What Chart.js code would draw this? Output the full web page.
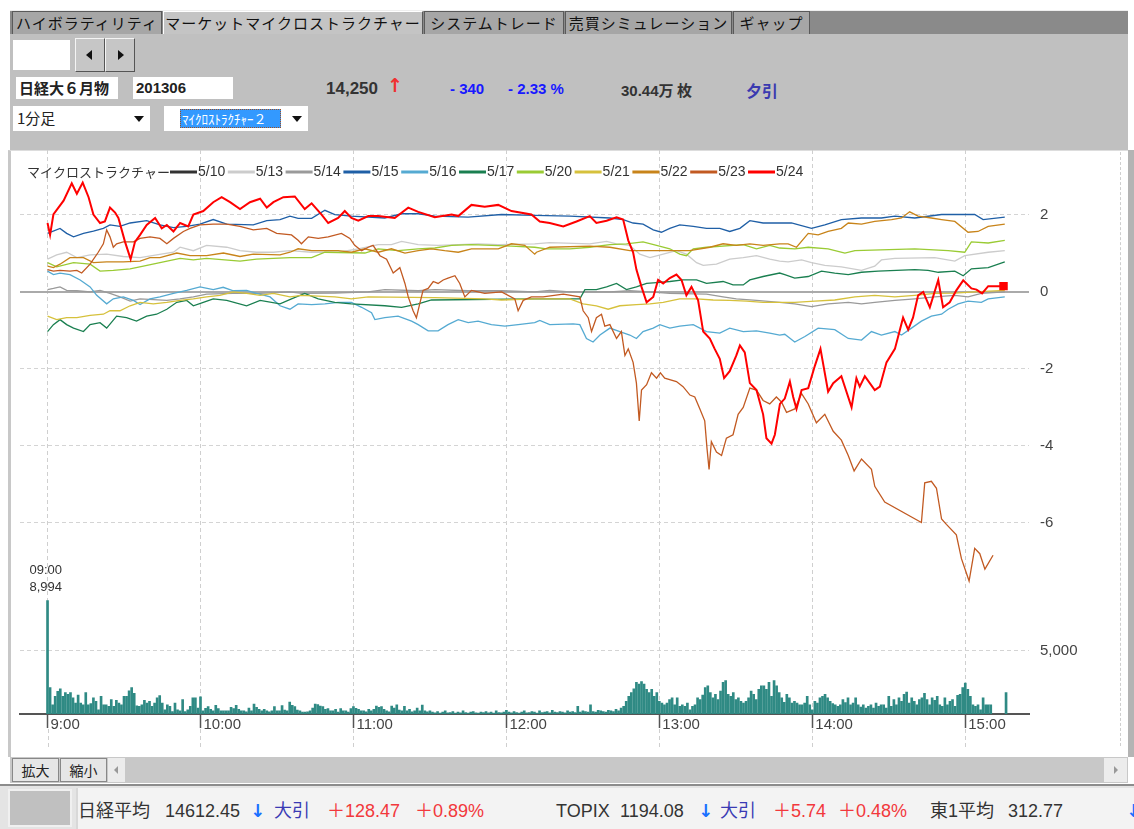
<!DOCTYPE html>
<html lang="ja">
<head>
<meta charset="UTF-8">
<title>マーケットマイクロストラクチャー</title>
<style>
  body { margin:0; width:1134px; height:829px; background:#fff; position:relative; overflow:hidden;
         font-family:"Noto Sans CJK JP", sans-serif; color:#222; }
  .a { position:absolute; box-sizing:border-box; white-space:nowrap; }
  .tab { top:11px; height:23px; background:#a6a6a6; border:1px solid #5a5a5a; border-bottom:none;
         font-size:15px; line-height:21px; text-align:center; letter-spacing:1px; color:#111; }
  .tab.on { background:#c4c4c4; border-color:#fff #5a5a5a #c4c4c4 #fff; }
  .btn { background:#c6c6c6; border:1px solid; border-color:#f4f4f4 #555 #555 #f4f4f4; }
  .tri-l { width:0; height:0; border-top:5px solid transparent; border-bottom:5px solid transparent; border-right:6px solid #111; }
  .tri-r { width:0; height:0; border-top:5px solid transparent; border-bottom:5px solid transparent; border-left:6px solid #111; }
  .tri-d { width:0; height:0; border-left:5px solid transparent; border-right:5px solid transparent; border-top:6px solid #111; }
  .num { font-family:"Liberation Sans", Arial, sans-serif; font-weight:bold; font-size:15px; }
  .st { top:798px; font-size:18px; font-family:"Liberation Sans", "Noto Sans CJK JP", sans-serif; color:#333; line-height:26px; }
  .red { color:#f2383c; }
  .blu { color:#3a3ab4; }
  .arr { color:#1a70ff; font-family:"DejaVu Sans", sans-serif; font-weight:bold; }
</style>
</head>
<body>
<!-- tab bar -->
<div class="a" style="left:10px;top:10px;width:1118px;height:24px;background:#8a8a8a;border-top:1px solid #eee;"></div>
<div class="a tab" style="left:12px;width:150px;">ハイボラティリティ</div>
<div class="a tab on" style="left:163px;width:260px;">マーケットマイクロストラクチャー</div>
<div class="a tab" style="left:424px;width:140px;">システムトレード</div>
<div class="a tab" style="left:565px;width:167px;">売買シミュレーション</div>
<div class="a tab" style="left:733px;width:77px;">ギャップ</div>

<!-- toolbar -->
<div class="a" style="left:10px;top:34px;width:1118px;height:116px;background:#c0c0c0;"></div>
<div class="a" style="left:13px;top:40px;width:57px;height:30px;background:#fff;"></div>
<div class="a btn" style="left:75px;top:38px;width:30px;height:34px;"></div>
<div class="a btn" style="left:105px;top:38px;width:30px;height:34px;"></div>
<div class="a tri-l" style="left:86px;top:50px;"></div>
<div class="a tri-r" style="left:118px;top:50px;"></div>

<div class="a" style="left:16px;top:77px;width:102px;height:22px;background:#fff;font-weight:bold;font-size:15px;line-height:22px;padding-left:3px;">日経大６月物</div>
<div class="a num" style="left:133px;top:77px;width:100px;height:22px;background:#fff;line-height:22px;padding-left:3px;">201306</div>
<div class="a num" style="left:326px;top:79px;font-size:17px;color:#333;">14,250</div>
<div class="a" style="left:387px;top:74px;font-size:19px;color:#f03030;font-weight:bold;font-family:'DejaVu Sans',sans-serif;">↑</div>
<div class="a num" style="left:450px;top:80px;color:#1818ff;">- 340</div>
<div class="a num" style="left:508px;top:80px;color:#1818ff;">- 2.33 %</div>
<div class="a" style="left:621px;top:79px;color:#333;font-weight:bold;font-size:15px;"><span class="num">30.44</span>万 枚</div>
<div class="a" style="left:746px;top:78px;color:#3a3ab0;font-weight:bold;font-size:16px;">夕引</div>

<div class="a" style="left:13px;top:106px;width:137px;height:25px;background:#fff;font-size:15px;line-height:24px;padding-left:4px;">1分足</div>
<div class="a tri-d" style="left:134px;top:116px;"></div>
<div class="a" style="left:164px;top:106px;width:144px;height:25px;background:#fff;"></div>
<div class="a" style="left:180px;top:109px;width:101px;height:19px;background:#3399ff;border:1px dotted #a05020;color:#fff;font-size:13px;line-height:17px;padding-left:1px;">ﾏｲｸﾛｽﾄﾗｸﾁｬｰ２</div>
<div class="a tri-d" style="left:292px;top:116px;"></div>

<!-- chart panel -->
<div class="a" style="left:8px;top:150px;width:1120px;height:607px;background:#fff;border-left:3px solid #c8c8c8;border-top:1px solid #ddd;"></div>
<div class="a" style="left:1128px;top:150px;width:6px;height:607px;background:#b4b4b4;"></div>
<div class="a" style="left:1120px;top:152px;width:1px;height:594px;border-left:1px dashed #cfcfcf;"></div>
<div class="a" style="left:12px;top:150px;width:1116px;height:605px;">
  <canvas id="chart" width="1116" height="605"></canvas>
</div>

<!-- zoom / scroll bar -->
<div class="a" style="left:10px;top:757px;width:1118px;height:26px;background:#c8c8c8;"></div>
<div class="a" style="left:12px;top:758px;width:47px;height:24px;background:#e6e6e6;border:1px solid #888;font-size:14px;line-height:22px;text-align:center;">拡大</div>
<div class="a" style="left:60px;top:758px;width:47px;height:24px;background:#e6e6e6;border:1px solid #888;font-size:14px;line-height:22px;text-align:center;">縮小</div>
<div class="a" style="left:108px;top:758px;width:17px;height:24px;background:#ececec;"></div>
<div class="a" style="left:114px;top:766px;width:0;height:0;border-top:4px solid transparent;border-bottom:4px solid transparent;border-right:4px solid #999;"></div>
<div class="a" style="left:1104px;top:758px;width:23px;height:24px;background:#ececec;"></div>
<div class="a" style="left:1114px;top:766px;width:0;height:0;border-top:4px solid transparent;border-bottom:4px solid transparent;border-left:4px solid #999;"></div>

<!-- status bar -->
<div class="a" style="left:0;top:784px;width:1134px;height:45px;background:#e4e4e4;border-top:2px solid #8c8c8c;"></div>
<div class="a" style="left:8px;top:789px;width:64px;height:38px;background:#c0c0c0;border:2px solid #f0f0f0;"></div>
<div class="a" style="left:76px;top:788px;width:1058px;height:41px;background:#f3f3f3;border-left:2px solid #d8d8d8;"></div>
<div class="a st" style="left:78px;">日経平均</div>
<div class="a st" style="left:165px;">14612.45</div>
<div class="a st arr" style="left:250px;">↓</div>
<div class="a st blu" style="left:274px;">大引</div>
<div class="a st red" style="left:327px;">＋128.47</div>
<div class="a st red" style="left:415px;">＋0.89%</div>
<div class="a st" style="left:556px;">TOPIX</div>
<div class="a st" style="left:620px;">1194.08</div>
<div class="a st arr" style="left:698px;">↓</div>
<div class="a st blu" style="left:720px;">大引</div>
<div class="a st red" style="left:773px;">＋5.74</div>
<div class="a st red" style="left:838px;">＋0.48%</div>
<div class="a st" style="left:930px;">東1平均</div>
<div class="a st" style="left:1008px;">312.77</div>
<div class="a st arr" style="left:1126px;">↓</div>

<script src="https://cdn.jsdelivr.net/npm/chart.js@4.4.0/dist/chart.umd.min.js"></script>
<script>
// minutes after 9:00 on the x axis
const xTickMinutes = [0, 60, 120, 180, 240, 300, 360];
const xTickLabels = ['9:00', '10:00', '11:00', '12:00', '13:00', '14:00', '15:00'];
const priceTicks = [2, 0, -2, -4, -6];
const volumeTicks = [5000];

const seriesNames = ['5/10', '5/13', '5/14', '5/15', '5/16', '5/17', '5/20', '5/21', '5/22', '5/23', '5/24'];
const seriesColors = ['#333333', '#cccccc', '#9a9a9a', '#1f5fa6', '#55aad2', '#1a7f50',
                      '#9acb34', '#d6c13c', '#c8841a', '#c25a22', '#ff0000'];

// [minute, value] pairs
const s0510 = [];
const s0513 = [[0,0.85],[3.6,0.96],[7.5,1.03],[11.5,0.89],[16.7,0.96],[23.2,0.98],[29.7,0.92],[36.3,0.89],[42.8,0.96],
  [49.4,1.03],[52,1.16],[57.2,1.07],[62.4,1.21],[70.3,1.16],[75.5,1.07],[82,1.03],[88.6,1.03],[95.1,1.07],[103.6,1.03],
  [114,1.03],[121.9,1.12],[129.7,1.23],[134.9,1.23],[138.9,1.31],[145.4,1.23],[153.2,1.21],[161.1,1.23],[168.9,1.25],
  [176.8,1.23],[191.1,1.25],[197,1.28],[212.7,1.25],[219.3,1.31],[223.2,1.25],[228.4,1.21],[232.3,0.98],[236.3,0.89],
  [241.5,0.98],[246.7,1.07],[250.6,0.98],[254.6,0.76],[257.2,0.69],[262.4,0.72],[267.6,0.85],[272.9,0.89],[278.1,0.94],
  [283.3,0.85],[287.2,0.8],[290.5,0.78],[295.8,0.83],[299.7,0.76],[304.9,0.69],[311.4,0.65],[319.3,0.56],[324.5,0.67],
  [327.1,0.83],[332.4,0.87],[348,0.89],[355.9,0.8],[359.8,0.94],[369,1.03],[375.5,1.07]];
const s0514 = [[0,0.06],[2.3,0.09],[4.9,0.13],[7.5,0.04],[11.5,0.03],[16.7,0],[20.6,0.04],[24.5,-0.04],[28.4,-0.13],
  [32.4,-0.24],[36.3,-0.18],[46.8,-0.22],[51.9,-0.18],[57.2,-0.13],[62.4,-0.06],[72.9,-0.04],[83.4,-0.04],[95.1,0],
  [99.6,-0.04],[112.7,-0.03],[125.8,0],[132.3,0.06],[145.4,0.03],[151.9,0.06],[165,0.03],[178.1,0.03],[191.1,0],
  [197,0.04],[204.9,0],[220.6,0],[228.4,0.03],[236.3,0],[244.1,-0.04],[258.5,-0.06],[265,-0.13],[270.2,-0.18],
  [278.1,-0.22],[287.2,-0.27],[293.1,-0.31],[299.7,-0.38],[306.2,-0.31],[314.1,-0.27],[319.3,-0.31],[324.5,-0.27],
  [332.4,-0.22],[340.2,-0.18],[348,-0.13],[355.9,-0.09],[361.1,-0.13],[366.3,-0.04],[375.5,0]];
const s0515 = [[0,1.52],[4.9,1.65],[7.5,1.52],[10.2,1.43],[14.1,1.52],[18,1.58],[21.9,1.65],[24.5,1.74],[28.4,1.7],
  [32.4,1.79],[38.9,1.85],[44.1,1.74],[49.4,1.67],[54.6,1.7],[59.8,1.76],[65,1.88],[70.3,1.76],[80.7,1.74],[86,1.85],
  [91.2,1.88],[95.1,1.97],[98.3,1.91],[103.6,1.91],[108.8,2.12],[112.7,2.01],[119.2,1.97],[132.3,1.92],[138.9,2.03],
  [145.4,2.03],[151.9,1.97],[165,1.94],[178.1,2.01],[191.1,1.99],[204.9,1.97],[220.6,1.92],[225.8,1.88],[229.7,1.79],
  [233.6,1.76],[237.6,1.61],[240.8,1.55],[244.1,1.65],[248,1.74],[253.3,1.7],[258.5,1.65],[263.7,1.65],[267.6,1.57],
  [271.6,1.65],[275.5,1.85],[280.7,1.79],[287.2,1.79],[291.8,1.79],[299.7,1.65],[304.9,1.74],[311.4,1.88],[319.3,1.92],
  [327.1,1.92],[332.4,1.97],[340.2,1.92],[350.7,2.01],[357.2,2.01],[363.7,2.01],[367,1.88],[375.5,1.94]];
const s0516 = [[0,0.54],[2.3,0.45],[4.9,0.49],[8.8,0.45],[12.8,0.31],[16.7,0.13],[19.3,-0.09],[23.2,-0.31],[25.8,-0.18],
  [29.7,-0.13],[33.7,-0.22],[36.3,-0.33],[40.2,-0.18],[44.1,-0.13],[49.4,-0.04],[54.6,0.04],[59.8,0.13],[65,0.06],
  [68.9,0.12],[72.9,0.03],[78.1,0.04],[82,-0.04],[87.3,-0.13],[91.2,-0.36],[95.1,-0.45],[98.3,-0.31],[103.6,-0.33],
  [108.8,-0.31],[114,-0.27],[119.2,-0.27],[123.2,-0.4],[127.1,-0.54],[128.4,-0.72],[132.3,-0.67],[137.5,-0.63],
  [142.8,-0.76],[145.4,-0.85],[149.3,-1.01],[153.2,-1.01],[157.1,-0.85],[161.1,-0.72],[165,-0.8],[168.9,-0.76],
  [174.1,-0.85],[179.4,-0.89],[184.6,-0.85],[191.1,-0.8],[193.1,-0.74],[197,-0.85],[206.2,-0.83],[208.8,-0.85],
  [211.4,-1.21],[214,-1.3],[216.7,-1.12],[220.6,-0.94],[224.5,-1.03],[228.4,-1.12],[231,-1.21],[233.6,-1.03],
  [237.6,-0.94],[240.2,-0.85],[244.1,-0.94],[248,-0.89],[253.3,-0.85],[258.5,-1.03],[263.7,-1.07],[267.6,-0.94],
  [272.9,-1.03],[278.1,-1.01],[283.3,-1.07],[287.2,-1.12],[289.2,-1.1],[293.1,-1.3],[297.1,-1.16],[302.3,-0.94],
  [308.8,-0.98],[314.1,-1.21],[319.3,-1.25],[323.2,-1.03],[327.1,-1.12],[332.4,-1.03],[335,-1.12],[338.9,-0.94],
  [342.8,-0.76],[346.7,-0.63],[350.7,-0.58],[353.3,-0.45],[357.2,-0.31],[361.1,-0.24],[366.3,-0.27],[369,-0.18],[375.5,-0.13]];
const s0517 = [[0,-1.03],[2.3,-0.85],[4.9,-0.72],[7.5,-0.85],[10.2,-0.94],[14.1,-1.03],[16.7,-0.85],[20.6,-0.8],
  [23.2,-0.94],[27.1,-0.63],[31,-0.67],[34.9,-0.76],[38.9,-0.63],[42.8,-0.58],[46.8,-0.45],[50.7,-0.27],[54.6,-0.22],
  [57.2,-0.36],[61.1,-0.27],[65,-0.18],[70.3,-0.22],[78.1,-0.36],[83.4,-0.22],[91.2,-0.31],[95.7,-0.18],[100.9,-0.04],
  [106.2,-0.18],[112.7,-0.27],[119.2,-0.31],[132.3,-0.36],[138.9,-0.4],[145.4,-0.31],[150.6,-0.21],[191.1,-0.18],
  [208.8,-0.18],[210.8,0.06],[215.3,0.06],[219.3,0.13],[223.2,0.22],[227.1,0.06],[231,0.13],[235,0.22],[238.9,0.24],
  [244.1,0.27],[249.3,0.31],[254.6,0.31],[258.5,0.22],[265,0.27],[268.9,0.18],[272.9,0.18],[275.5,0.31],[280.7,0.4],
  [287.2,0.49],[289.2,0.45],[293.1,0.36],[298.4,0.4],[303.6,0.54],[308.8,0.49],[314.1,0.45],[319.3,0.51],[325.8,0.54],
  [340.2,0.58],[345.4,0.56],[349.4,0.51],[355.9,0.54],[359.2,0.42],[362.4,0.6],[369,0.63],[375.5,0.78]];
const s0520 = [[0,0.76],[3.6,0.65],[10.2,0.76],[16.7,0.72],[20.6,0.54],[25.8,0.56],[32.4,0.6],[37.6,0.67],[44.1,0.76],
  [52,0.87],[57.2,0.83],[62.4,0.87],[75.5,0.8],[82,0.85],[95.1,0.89],[103.6,0.89],[108.8,1.03],[124.5,1.01],[129.7,1.12],
  [137.5,1.07],[145.4,1.12],[151.9,1.14],[158.5,1.21],[166.3,1.23],[182,1.19],[191.1,1.16],[195.7,1.12],[204.9,1.12],
  [212.7,1.16],[220.6,1.23],[227.1,1.25],[233.6,1.3],[238.9,1.21],[244.1,1.12],[248,0.98],[250.6,0.94],[253.3,1.12],
  [258.5,1.16],[272.9,1.23],[278.1,1.12],[283.3,1.21],[287.2,1.14],[293.1,1.12],[298.4,1.16],[306.2,1.12],[312.8,1.01],
  [316.7,1.07],[340.2,1.12],[353.3,1.07],[359.8,1.03],[362.4,1.3],[369,1.27],[375.5,1.34]];
const s0521 = [[0,-0.63],[3.6,-0.72],[7.5,-0.67],[11.5,-0.67],[16.7,-0.61],[21.9,-0.58],[24.5,-0.49],[28.4,-0.49],
  [32.4,-0.36],[36.3,-0.27],[41.5,-0.31],[46.8,-0.27],[52,-0.22],[57.2,-0.18],[62.4,-0.13],[67.6,-0.09],[72.9,0],
  [78.1,-0.04],[83.4,-0.09],[88.6,-0.04],[95.1,-0.13],[99.6,-0.09],[112.7,-0.13],[119.2,-0.18],[125.8,-0.13],
  [151.9,-0.15],[171.5,-0.18],[178.1,-0.21],[191.1,-0.18],[204.9,-0.18],[210.1,-0.31],[215.3,-0.36],[219.9,-0.45],
  [224.5,-0.36],[231,-0.33],[236.3,-0.31],[241.5,-0.27],[248,-0.18],[254.6,-0.18],[261.1,-0.21],[267.6,-0.22],
  [274.2,-0.24],[280.7,-0.27],[287.2,-0.27],[293.1,-0.27],[301,-0.24],[308.8,-0.21],[316.7,-0.13],[324.5,-0.09],
  [332.4,-0.13],[340.2,-0.09],[348,-0.04],[355.9,-0.03],[363.7,0],[375.5,0.04]];
const s0522 = [[0,0.67],[2.3,0.63],[4.9,0.72],[8.8,0.89],[14.1,0.89],[18,0.76],[23.2,0.78],[29.7,0.78],[36.3,0.8],
  [40.2,0.89],[44.1,0.89],[50.7,1.01],[55.9,0.94],[62.4,0.94],[69,1.01],[75.5,0.92],[80.7,0.98],[91.2,0.96],[95.1,1.03],
  [98.3,1.12],[103.6,1.07],[114,1.07],[119.2,1.03],[124.5,1.12],[129.7,1.03],[134.9,1.12],[140.2,1.01],[145.4,1.07],
  [150.6,1.12],[155.8,1.07],[161.1,1.03],[166.3,1.12],[176.8,1.12],[182,1.25],[187.2,1.21],[191.1,0.98],[191.8,1.03],
  [197,1.16],[212.7,1.19],[220.6,1.16],[228.4,1.07],[236.3,1.07],[251.9,1.07],[259.8,1.16],[265,1.25],[270.2,1.21],
  [275.5,1.25],[280.7,1.21],[287.2,1.25],[290.5,1.25],[293.8,1.16],[298.4,1.52],[302.3,1.48],[306.2,1.57],[311.4,1.65],
  [314.1,1.79],[319.3,1.76],[324.5,1.83],[331.1,1.88],[335,1.92],[338.2,2.08],[341.5,1.97],[346.7,1.92],[350.7,1.88],
  [355.9,1.83],[361.1,1.55],[365,1.57],[369,1.7],[375.5,1.76]];
const s0523 = [[0,0.58],[2.3,0.54],[4.9,0.56],[8.8,0.54],[11.5,0.56],[13.4,0.49],[16.7,0.72],[19.9,1.03],[21.9,1.25],
  [23.2,1.61],[24.5,1.43],[25.8,1.16],[27.1,1.25],[29.7,1.3],[33.7,1.3],[36.3,1.39],[40.2,1.43],[44.1,1.39],[46.8,1.25],
  [49.4,1.39],[53.3,1.57],[55.9,1.65],[59.8,1.74],[65,1.76],[70.3,1.76],[75.5,1.7],[80.7,1.61],[86,1.65],[89.9,1.52],
  [95.7,1.48],[98.3,1.34],[99.6,1.25],[102.3,1.43],[106.2,1.39],[110.1,1.43],[115.3,1.52],[118.6,1.39],[120.5,1.21],
  [123.2,1.07],[125.8,1.16],[127.7,1.21],[130.4,0.94],[133,0.85],[135.6,0.49],[138.2,0.63],[140.2,0.22],[141.5,-0.13],
  [143.4,-0.49],[144.7,-0.67],[146,-0.31],[147.3,0.04],[149.3,0.09],[151.3,0.27],[153.2,0.22],[155.2,0.31],[157.1,0.36],
  [159.8,0.42],[161.7,0.22],[163.7,-0.13],[166.3,0.04],[171.5,-0.04],[178.1,0],[183.3,-0.18],[184.6,-0.49],
  [186.6,-0.22],[189.8,-0.13],[194.4,-0.13],[202.3,-0.06],[208.8,-0.13],[210.1,-0.49],[212.1,-0.67],[213.4,-1.03],
  [215.3,-0.67],[217.3,-0.58],[218.6,-0.89],[220.6,-0.85],[223.2,-1.21],[225.1,-1.03],[226.5,-1.65],[227.8,-1.48],
  [229.7,-1.83],[231,-2.37],[232.1,-3.35],[233,-2.55],[235,-2.41],[236.9,-2.1],[238.9,-2.24],[240.4,-2.1],[242.1,-2.24],
  [246.7,-2.33],[249.3,-2.46],[252,-2.68],[253.9,-2.73],[255.9,-3.04],[257.8,-3.35],[258.7,-4.07],[259.5,-4.61],
  [260.4,-3.89],[262.4,-4.16],[264.4,-4.25],[266.3,-3.8],[268.9,-3.71],[270.9,-3.18],[272.9,-3],[275.5,-2.5],
  [278.1,-2.55],[280.7,-2.82],[283.3,-2.91],[285.9,-2.73],[287.9,-2.86],[289.9,-3.13],[293.1,-3.04],[295.8,-2.64],
  [298.4,-2.91],[301.6,-3.4],[304.9,-3.18],[308.2,-3.62],[311.4,-3.85],[314.1,-4.25],[316.4,-4.65],[319.3,-4.34],
  [323.2,-4.61],[324.5,-5.05],[328.4,-5.46],[342.8,-5.99],[344.1,-4.96],[346.7,-4.92],[348.7,-5.1],[350.7,-5.9],
  [352.6,-6.04],[356.5,-6.31],[358.5,-6.93],[361.5,-7.51],[363.7,-6.66],[365.7,-6.8],[367.7,-7.2],[370.9,-6.84]];
const s0524 = [[0,1.79],[1,1.48],[2.3,2.01],[6.3,2.37],[9.5,2.82],[11.5,2.55],[13.8,2.84],[16.1,2.46],[18,2.01],
  [20.6,1.79],[22.5,1.83],[24.5,2.19],[26.5,2.06],[27.8,1.92],[30.4,1.3],[32.6,0.85],[34.3,1.3],[36.3,1.48],[38.9,1.74],
  [42.2,1.92],[44.8,1.65],[46.8,1.74],[49.4,1.57],[52,1.79],[55.2,1.7],[57.2,2.01],[61.1,2.1],[65,2.33],[68.3,2.46],
  [71.6,2.33],[75.5,2.15],[79.4,2.33],[83.4,2.42],[86,2.19],[88.6,2.33],[92.5,2.46],[97,2.48],[100.9,2.15],[103.6,2.3],
  [107.5,2.01],[110.1,1.79],[114,1.92],[116.6,2.1],[119.2,1.92],[121.9,1.85],[125.8,1.97],[129.7,1.97],[136.2,1.92],
  [141.5,2.19],[145.4,2.08],[151.9,1.94],[158.5,2.01],[161.1,1.97],[166.3,2.26],[171.5,2.21],[176.8,2.26],[182,2.1],
  [189.8,2.01],[193.1,1.83],[197,1.79],[202.3,1.7],[207.5,1.83],[212.7,1.97],[215.3,1.79],[219.3,1.85],[223.2,1.94],
  [225.8,1.88],[227.8,1.34],[229.7,1.03],[231,0.58],[233,0.13],[235,-0.27],[237.6,-0.13],[239.5,0.31],[241.5,0.22],
  [244.1,0.36],[246.7,0.45],[248.7,0.31],[250.6,-0.09],[252.6,0.13],[255.2,-0.22],[257.2,-1.03],[259.8,-1.21],
  [261.7,-1.48],[263.7,-1.74],[265.4,-2.24],[267.6,-2.06],[270.2,-1.65],[271.6,-1.39],[273.5,-1.57],[275.5,-2.37],
  [278.1,-2.55],[280.7,-3.18],[282,-3.8],[284,-3.94],[285.3,-3.71],[287.3,-2.91],[289.2,-2.77],[291.2,-2.33],
  [292.5,-2.73],[293.8,-3.04],[295.8,-2.55],[298.4,-2.5],[301,-1.92],[303.2,-1.48],[306.2,-2.59],[308.2,-2.37],
  [311.4,-2.19],[315.4,-3],[317.3,-2.24],[318.6,-2.46],[320.6,-2.19],[324.5,-2.55],[326.5,-2.46],[329.1,-1.83],
  [332.4,-1.48],[335.6,-0.67],[337.6,-0.98],[339.5,-0.67],[341.5,-0.09],[343.5,0],[346.1,-0.4],[349.4,0.31],
  [351.3,-0.4],[353.9,-0.27],[356.5,0.04],[359.2,0.3],[362.4,0.09],[364.4,0.06],[366.6,-0.04],[369,0.15],[375,0.15]];

// 1-minute volume, one array per hour (index = minute within the hour)
const vol0900 = [8994,2100,730,1400,1800,2000,1400,1700,1550,1700, 1280,870,1500,870,730,1700,730,820,1280,1000,
  330,1400,730,730,600,1150,600,1090,870,730, 1400,1400,1830,2100,1630,650,600,730,1090,870,
  1000,600,870,1280,1460,870,330,730,600,190, 870,330,250,1140,190,330,600,1280,1280,460];
const vol1000 = [1360,260,450,580,370,260,680,420,260,260, 260,260,530,420,680,370,260,260,180,470,
  260,790,530,370,260,370,260,180,260,580, 260,260,660,320,260,950,680,580,320,260,
  150,150,180,260,470,790,740,630,580,370, 420,260,260,370,150,420,260,260,150,420];
const vol1100 = [580,450,370,260,260,180,370,260,370,630, 530,580,370,260,180,630,470,730,320,260,
  600,260,370,180,260,470,260,700,260,180, 260,150,100,200,80,150,260,100,120,200,
  80,150,100,260,120,80,150,200,100,80, 150,120,200,100,150,80,260,120,100,150];
const vol1200 = [300,150,100,200,120,80,150,260,100,120, 200,150,80,260,120,150,200,100,300,150,
  120,200,150,100,260,150,200,120,600,150, 260,200,150,730,200,150,300,260,200,150,
  300,260,200,370,260,470,600,1000,1410,1690, 2000,2500,2370,2560,2370,1960,1690,1960,1410,1690];
const vol1300 = [1000,870,730,870,1140,1280,730,1280,600,730, 600,870,330,600,730,1280,1140,1500,2090,2230,
  1690,1280,1550,1140,1820,2500,2640,1550,1410,1690, 1140,1280,1000,870,1000,1280,1820,1550,1140,1960,
  2230,2230,1960,2500,1410,2640,2230,1690,1280,920, 1550,1280,870,1000,870,730,730,870,1410,730];
const vol1400 = [330,1000,870,1280,1410,1550,1280,1000,820,730, 600,730,1140,900,1280,730,870,1280,730,540,
  730,460,600,730,460,870,600,730,730,460, 1410,600,1140,730,1280,1000,1550,1740,870,1280,
  1000,730,1140,1280,1630,1140,730,1280,1090,1410, 730,600,1280,730,1000,1140,600,1470,1550,2090];
const vol1500 = [2450,1960,1410,730,600,730,330,1280,730,730, 730,null,null,null,null,null,1690];

const volume = [].concat(vol0900, vol1000, vol1100, vol1200, vol1300, vol1400, vol1500);
const lineSeries = [s0510, s0513, s0514, s0515, s0516, s0517, s0520, s0521, s0522, s0523, s0524];

const datasets = seriesNames.map((name, i) => {
  const pts = lineSeries[i].map(p => ({ x: p[0], y: p[1] }));
  const last = pts.length - 1;
  const isMain = name === '5/24';
  return {
    type: 'line',
    label: name,
    data: pts,
    yAxisID: 'y',
    borderColor: seriesColors[i],
    backgroundColor: seriesColors[i],
    borderWidth: isMain ? 2 : 1.3,
    tension: 0,
    pointStyle: 'rect',
    pointRadius: isMain ? (c => c.dataIndex === last ? 6 : 0) : 0,
    pointBorderWidth: 0,
    order: seriesNames.length - i
  };
});
datasets.push({
  type: 'bar',
  label: '出来高',
  data: volume.map((v, i) => v == null ? null : { x: i, y: v }).filter(Boolean),
  yAxisID: 'yVol',
  backgroundColor: '#2f8a84',
  barThickness: 2,
  order: 99
});

const isZero = c => c.tick && c.tick.value === 0;
const tickFont = { family: 'Liberation Sans', size: 15 };
// zero line-height keeps the right-hand labels from padding the top of the chart area
const sideFont = { family: 'Liberation Sans', size: 15, lineHeight: 0 };

// legend, volume-peak label and grid extension below the axis
const overlay = {
  id: 'overlay',
  afterDraw(chart) {
    const { ctx, chartArea } = chart;
    const x = chart.scales.x, yVol = chart.scales.yVol;
    ctx.save();
    ctx.strokeStyle = '#cfcfcf';
    ctx.lineWidth = 1;
    ctx.setLineDash([4, 3]);
    xTickMinutes.forEach(m => {
      const px = Math.round(x.getPixelForValue(m)) + 0.5;
      ctx.beginPath();
      ctx.moveTo(px, chartArea.bottom + 15);
      ctx.lineTo(px, chart.height - 6);
      ctx.stroke();
    });
    ctx.setLineDash([]);

    ctx.textBaseline = 'middle';
    ctx.fillStyle = '#333';
    ctx.font = '13px "Noto Sans CJK JP"';
    ctx.fillText('マイクロストラクチャー', 15, 22);
    ctx.font = '14px "Liberation Sans"';
    seriesNames.forEach((name, i) => {
      const x0 = 158 + i * 57.8;
      ctx.strokeStyle = seriesColors[i];
      ctx.lineWidth = 3;
      ctx.beginPath();
      ctx.moveTo(x0, 22);
      ctx.lineTo(x0 + 27, 22);
      ctx.stroke();
      ctx.fillStyle = '#333';
      ctx.fillText(name, x0 + 28, 22.5);
    });

    let peak = 0;
    volume.forEach((v, i) => { if (v != null && v > volume[peak]) peak = i; });
    const bx = x.getPixelForValue(peak);
    const by = yVol.getPixelForValue(volume[peak]);
    const hh = 9 + Math.floor(peak / 60), mm = peak % 60;
    ctx.font = '13px "Liberation Sans"';
    ctx.fillStyle = '#333';
    ctx.fillText(String(hh).padStart(2, '0') + ':' + String(mm).padStart(2, '0'), bx - 18, by - 30);
    ctx.fillText(volume[peak].toLocaleString('en-US'), bx - 18, by - 13);
    ctx.restore();
  }
};

new Chart(document.getElementById('chart'), {
  type: 'line',
  data: { datasets },
  plugins: [overlay],
  options: {
    responsive: false,
    animation: false,
    layout: { autoPadding: false, padding: { left: 8, top: 0, right: 0, bottom: 0 } },
    plugins: { legend: { display: false }, tooltip: { enabled: false } },
    scales: {
      x: {
        type: 'linear', min: -10.8, max: 385, offset: false,
        afterBuildTicks: s => { s.ticks = xTickMinutes.map(v => ({ value: v })); },
        afterFit: s => { s.height = 41; },
        ticks: {
          callback: v => xTickLabels[xTickMinutes.indexOf(v)],
          align: 'start', labelOffset: 3, padding: -12, autoSkip: false, maxRotation: 0,
          color: '#444', font: tickFont
        },
        grid: { color: '#cfcfcf', lineWidth: 1, offset: false, drawTicks: true, tickLength: 14,
                tickColor: '#555', tickWidth: 1.5, tickBorderDash: [] },
        border: { display: true, color: '#555', width: 2, dash: [4, 3] }
      },
      y: {
        type: 'linear', position: 'right', stack: 'pane', stackWeight: 437.8,
        min: -7.686, max: 3.686,
        afterBuildTicks: s => { s.ticks = priceTicks.map(v => ({ value: v })); },
        afterFit: s => { s.width = 99; },
        ticks: { padding: 0, color: '#444', font: sideFont },
        grid: { drawTicks: true, tickLength: 11, tickColor: 'rgba(0,0,0,0)',
                color: c => isZero(c) ? '#aaaaaa' : '#d4d4d4', lineWidth: c => isZero(c) ? 2 : 1 },
        border: { display: false, dash: c => isZero(c) ? [] : [4, 3] }
      },
      yVol: {
        type: 'linear', position: 'right', stack: 'pane', stackWeight: 126.2,
        min: 0, max: 10000,
        afterBuildTicks: s => { s.ticks = volumeTicks.map(v => ({ value: v })); },
        afterFit: s => { s.width = 99; },
        ticks: { padding: 0, color: '#444', font: sideFont },
        grid: { drawTicks: true, tickLength: 11, tickColor: 'rgba(0,0,0,0)', color: '#d4d4d4' },
        border: { display: false, dash: [4, 3] }
      }
    }
  }
});
</script>
</body>
</html>
